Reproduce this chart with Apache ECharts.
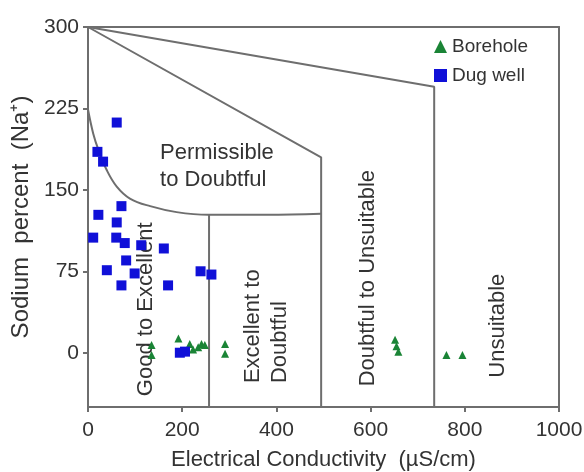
<!DOCTYPE html>
<html>
<head>
<meta charset="utf-8">
<script src="https://cdn.jsdelivr.net/npm/echarts@6/dist/echarts.min.js"></script>
<style>
  html, body { margin: 0; padding: 0; background: #fff; }
  #main { width: 584px; height: 472px; }
</style>
</head>
<body>
<div id="main"></div>
<script>
var myChart = echarts.init(document.getElementById('main'));

// sample points [EC, Na%]
var dugWell = [
    [61, 212], [20, 185], [32, 176], [71, 135], [22, 127], [61, 120],
    [11, 106], [60, 106], [78, 101], [113, 99], [161, 96], [81, 85],
    [40, 76], [99, 73], [71, 62], [170, 62], [239, 75], [262, 72],
    [195, 0], [206, 1]
];
var borehole = [
    [135, 7], [135, -2], [192, 13], [216, 8], [223, 3], [234, 5],
    [241, 8], [248, 7], [291, 8], [291, -1], [652, 12], [655, 6],
    [659, 1], [761, -2], [795, -2]
];

// classification boundaries (data units)
var curveBoundary = [
    [0, 224], [11, 202], [22, 187], [40, 168], [61, 153], [89, 142],
    [132, 135], [188, 129.5], [255, 127], [380, 127], [495, 128]
];
var midBoundary = [[0, 300], [495, 180], [495, -50]];
var highBoundary = [[0, 300], [735, 245], [735, -50]];
var lowBoundary = [[257, 127], [257, -50]];

var zoneNames = ['Permissible\nto Doubtful', 'Good to Excellent', 'Excellent to\nDoubtful',
                 'Doubtful to Unsuitable', 'Unsuitable'];
var zoneAnchors = [[153, 172], [123, -40], [379, -28], [594, -31], [870, -23]];
var zoneRotate = [0, 90, 90, 90, 90];

var yTicks = [0, 75, 150, 225, 300];

var gray = '#6e6e6e';
var font = 'Liberation Sans, Arial, sans-serif';

function boundary(pts, smooth) {
    return {
        type: 'line',
        data: pts,
        smooth: smooth || false,
        symbol: 'none',
        silent: true,
        lineStyle: { color: gray, width: 2 },
        z: 1
    };
}

var zoneData = zoneNames.map(function (n, i) {
    return {
        name: n,
        value: zoneAnchors[i],
        label: { rotate: zoneRotate[i] }
    };
});

option = {
    animation: false,
    backgroundColor: '#fff',
    grid: { left: 88, right: 25, top: 27, bottom: 65, outerBoundsMode: 'none' },
    legend: {
        orient: 'vertical',
        left: 429,
        top: 32,
        itemWidth: 13,
        itemHeight: 13,
        itemGap: 10,
        data: ['Borehole', 'Dug well'],
        textStyle: { fontFamily: font, fontSize: 19, color: '#333' }
    },
    xAxis: [{
        type: 'value',
        min: 0,
        max: 1000,
        interval: 200,
        name: 'Electrical Conductivity  (µS/cm)',
        nameLocation: 'middle',
        nameGap: 42,
        nameTextStyle: { fontFamily: font, fontSize: 22, color: '#333' },
        axisLine: { show: true, onZero: false, lineStyle: { color: gray, width: 2 } },
        axisTick: { show: true, length: 5, lineStyle: { color: gray, width: 2 } },
        axisLabel: {
            fontFamily: font, fontSize: 21, color: '#333', margin: 13,
            formatter: function (v) { return String(v); }
        },
        splitLine: { show: false }
    }, {
        type: 'value',
        position: 'top',
        min: 0,
        max: 1000,
        axisLine: { show: true, onZero: false, lineStyle: { color: gray, width: 2 } },
        axisTick: { show: false },
        axisLabel: { show: false },
        splitLine: { show: false }
    }],
    yAxis: [{
        type: 'value',
        min: -50,
        max: 300,
        name: 'Sodium  percent  (Na⁺)',
        nameLocation: 'middle',
        nameGap: 54,
        nameTextStyle: { fontFamily: font, fontSize: 24, color: '#333' },
        axisLine: { show: true, onZero: false, lineStyle: { color: gray, width: 2 } },
        axisTick: { show: true, length: 5, customValues: yTicks, lineStyle: { color: gray, width: 2 } },
        axisLabel: { fontFamily: font, fontSize: 21, color: '#333', margin: 9, customValues: yTicks },
        splitLine: { show: false }
    }, {
        type: 'value',
        position: 'right',
        min: -50,
        max: 300,
        axisLine: { show: true, onZero: false, lineStyle: { color: gray, width: 2 } },
        axisTick: { show: false },
        axisLabel: { show: false },
        splitLine: { show: false }
    }],
    series: [
        boundary(curveBoundary, 0.4),
        boundary(midBoundary),
        boundary(highBoundary),
        boundary(lowBoundary),
        {
            name: 'zones',
            type: 'scatter',
            data: zoneData,
            symbolSize: 0,
            silent: true,
            itemStyle: { opacity: 1 },
            label: {
                show: true,
                formatter: '{b}',
                position: [0, 0],
                align: 'left',
                verticalAlign: 'middle',
                fontFamily: font,
                fontSize: 22,
                lineHeight: 27,
                color: '#333'
            },
            z: 2
        },
        {
            name: 'Borehole',
            type: 'scatter',
            symbol: 'triangle',
            symbolSize: 8,
            itemStyle: { color: '#1a8436', opacity: 1 },
            data: borehole,
            z: 3
        },
        {
            name: 'Dug well',
            type: 'scatter',
            symbol: 'rect',
            symbolSize: 10,
            itemStyle: { color: '#1010d8', opacity: 1 },
            data: dugWell,
            z: 4
        }
    ]
};

myChart.setOption(option);
</script>
</body>
</html>
